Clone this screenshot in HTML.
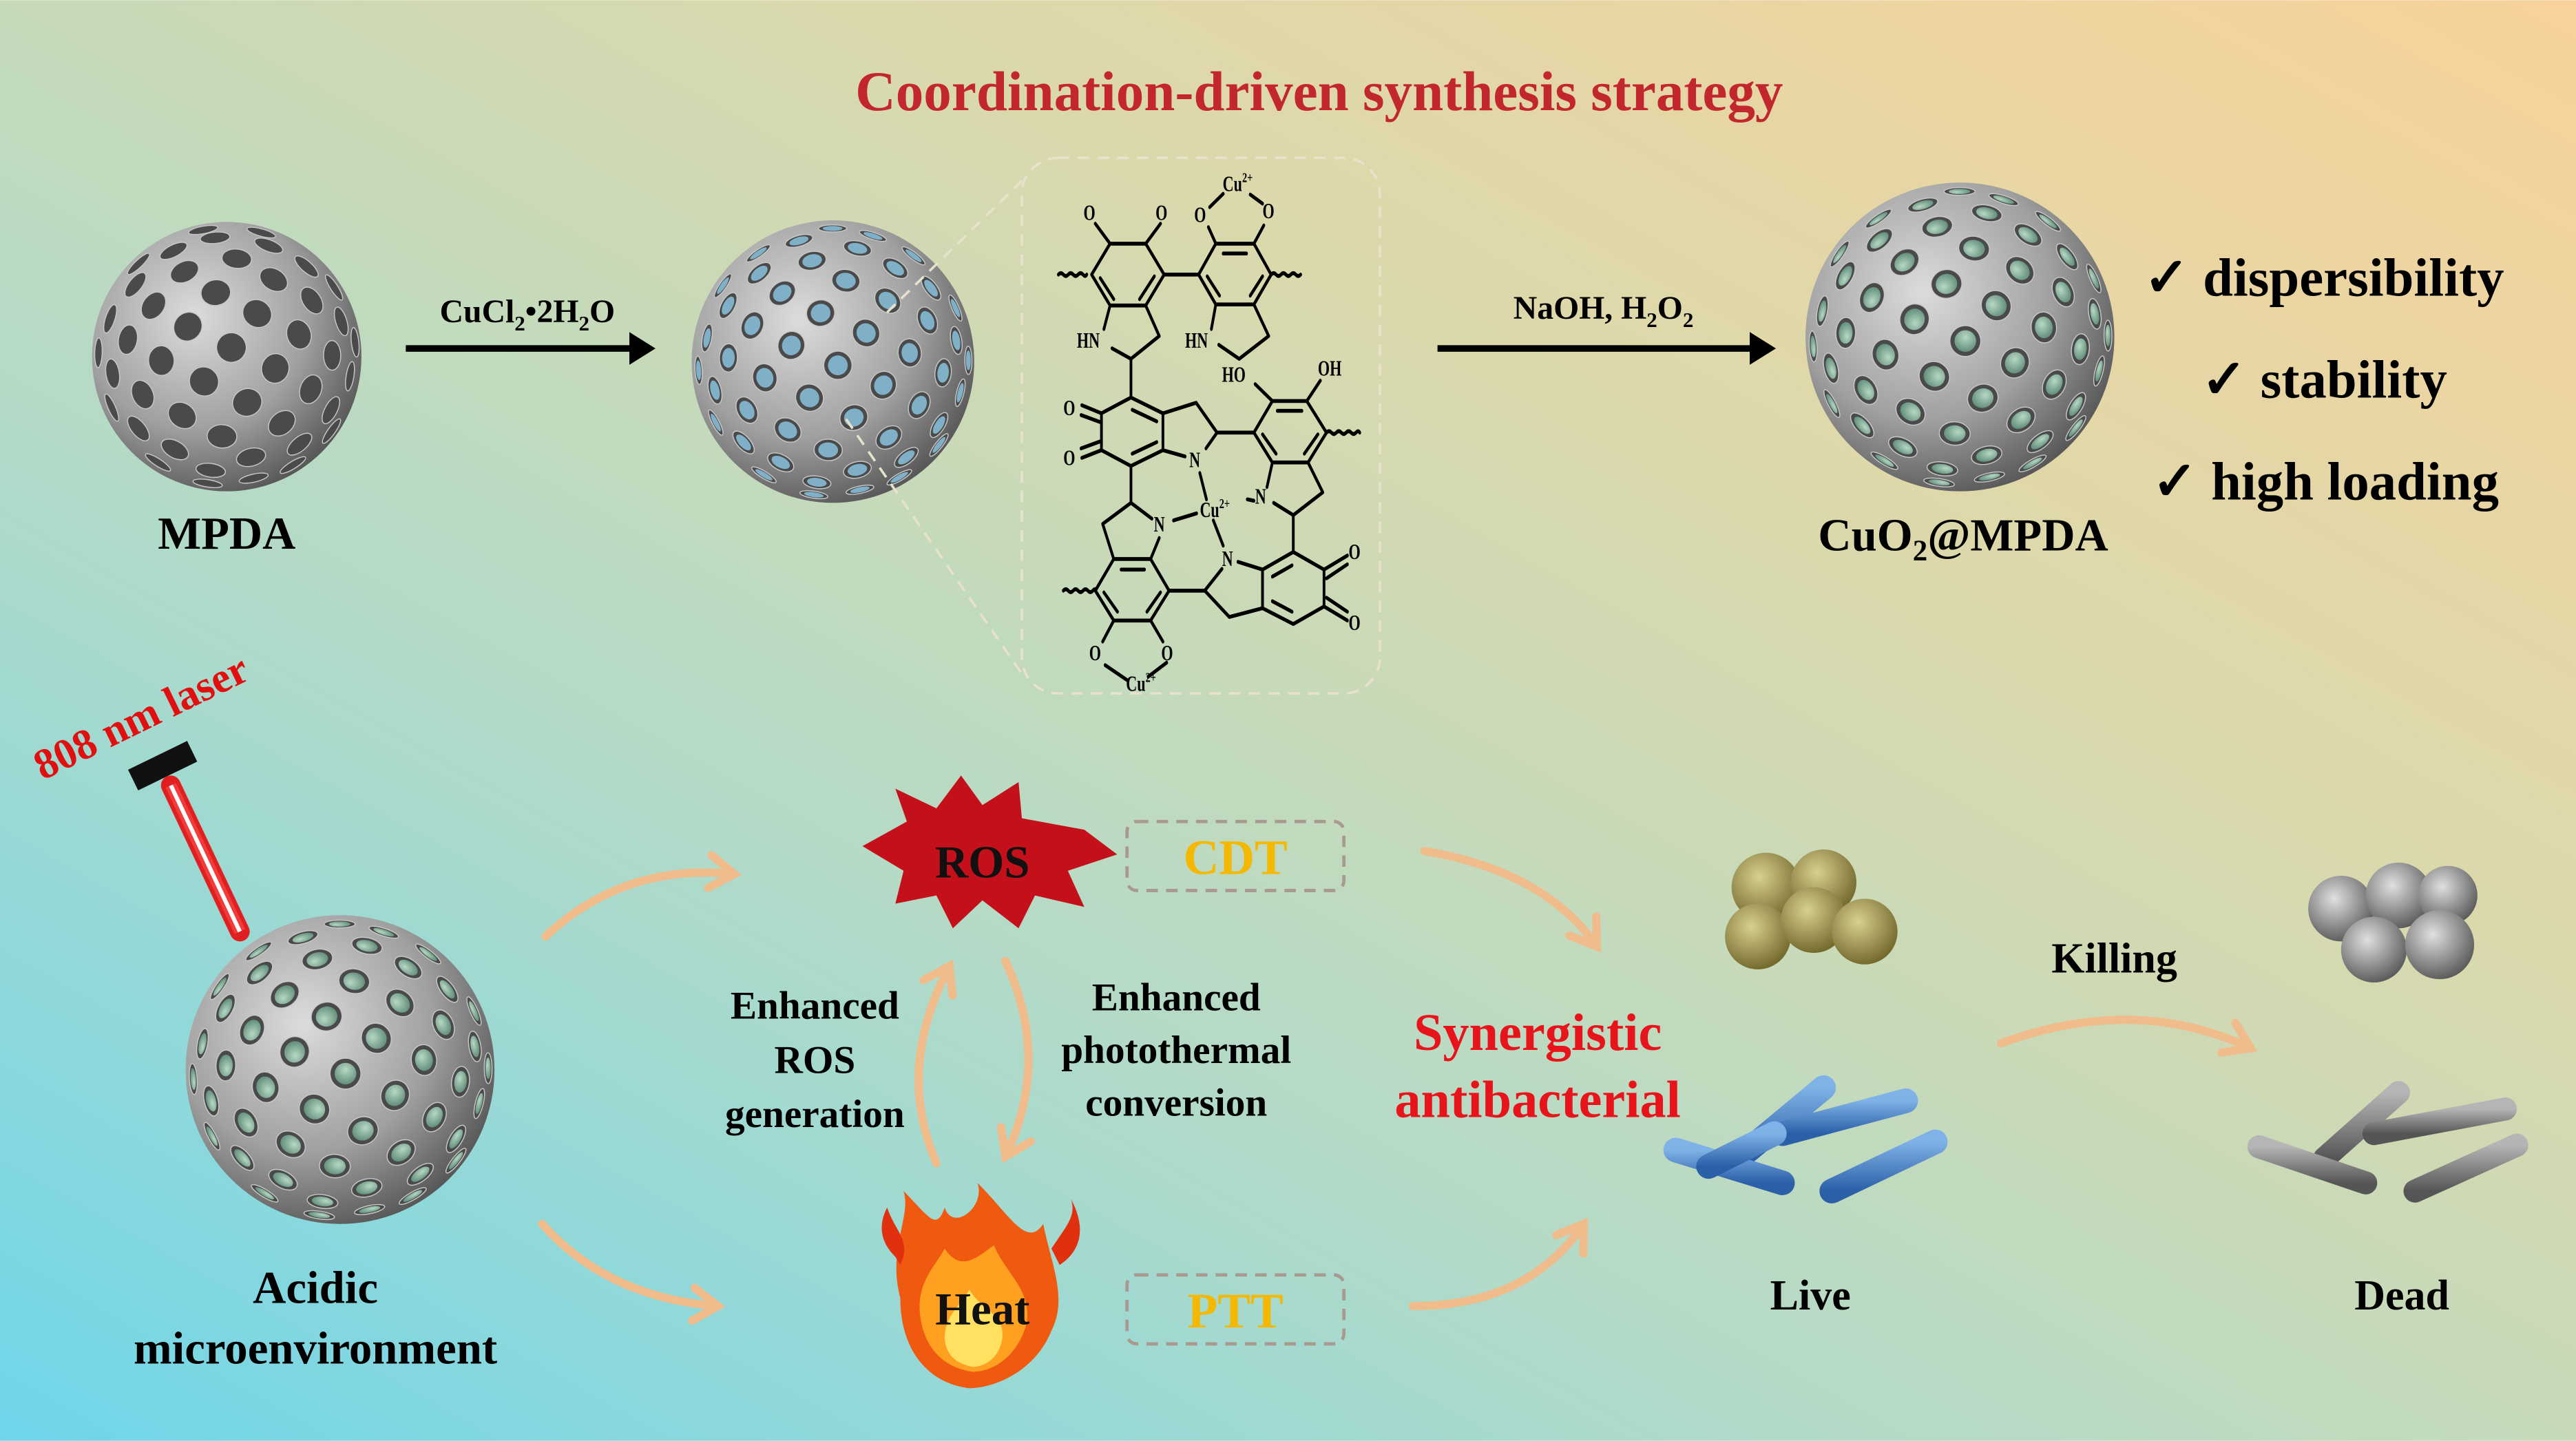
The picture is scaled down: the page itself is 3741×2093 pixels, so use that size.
<!DOCTYPE html>
<html><head><meta charset="utf-8">
<style>
html,body{margin:0;padding:0;width:3741px;height:2093px;overflow:hidden}
svg{display:block}
text{font-family:"Liberation Serif",serif;font-weight:bold}
</style></head><body>
<svg id="s" width="3741" height="2093" viewBox="0 0 1568 877" xmlns="http://www.w3.org/2000/svg">
<defs>
<linearGradient id="bg1" x1="0" y1="1" x2="1" y2="0">
<stop offset="0" stop-color="#6fd6ea"/>
<stop offset="0.35" stop-color="#b2dac8"/>
<stop offset="0.65" stop-color="#d9d9ad"/>
<stop offset="1" stop-color="#f8d29a"/>
</linearGradient>
<radialGradient id="sph" cx="0.38" cy="0.35" r="0.7">
<stop offset="0" stop-color="#dcdcdc"/>
<stop offset="0.6" stop-color="#a0a0a0"/>
<stop offset="1" stop-color="#555"/>
</radialGradient>
<radialGradient id="grn" cx="0.4" cy="0.35" r="0.7">
<stop offset="0" stop-color="#b6d8c4"/>
<stop offset="1" stop-color="#5f8c78"/>
</radialGradient>
<radialGradient id="yb" cx="0.4" cy="0.35" r="0.7">
<stop offset="0" stop-color="#d8d090"/>
<stop offset="1" stop-color="#6e6428"/>
</radialGradient>
<radialGradient id="gb" cx="0.4" cy="0.35" r="0.7">
<stop offset="0" stop-color="#e0e0e0"/>
<stop offset="1" stop-color="#555"/>
</radialGradient>
<linearGradient id="blue" x1="0" y1="0" x2="0" y2="1">
<stop offset="0" stop-color="#7fb2e6"/><stop offset="1" stop-color="#2b5fa8"/>
</linearGradient>
<linearGradient id="grey" x1="0" y1="0" x2="0" y2="1">
<stop offset="0" stop-color="#b5b5b5"/><stop offset="1" stop-color="#555"/>
</linearGradient>
<marker id="ab" markerWidth="6" markerHeight="6" refX="3" refY="3" orient="auto" markerUnits="strokeWidth"><path d="M0,0.5 L4,3 L0,5.5 Z" fill="#000"/></marker>
<marker id="ao" markerWidth="5" markerHeight="5" refX="3.5" refY="2.5" orient="auto" markerUnits="strokeWidth"><path d="M0.5,0.5 L3.5,2.5 L0.5,4.5" fill="none" stroke="#f0bc8c" stroke-width="1" stroke-linecap="round"/></marker>
</defs>
<rect width="1568" height="877" fill="url(#bg1)"/>

<text x="803" y="67" font-size="34" fill="#c1272d" text-anchor="middle">Coordination-driven synthesis strategy</text>

<g id="spheres"></g>

<line x1="247" y1="212" x2="395" y2="212" stroke="#000" stroke-width="4" marker-end="url(#ab)"/>
<text x="321" y="196" font-size="20" text-anchor="middle">CuCl<tspan font-size="13" dy="5">2</tspan><tspan dy="-5">•2H</tspan><tspan font-size="13" dy="5">2</tspan><tspan dy="-5">O</tspan></text>
<line x1="875" y1="212" x2="1077" y2="212" stroke="#000" stroke-width="4" marker-end="url(#ab)"/>
<text x="976" y="194" font-size="20" text-anchor="middle">NaOH, H<tspan font-size="13" dy="5">2</tspan><tspan dy="-5">O</tspan><tspan font-size="13" dy="5">2</tspan></text>

<text x="138" y="334" font-size="28" text-anchor="middle">MPDA</text>
<text x="1195" y="335" font-size="28" text-anchor="middle">CuO<tspan font-size="18" dy="6">2</tspan><tspan dy="-6">@MPDA</tspan></text>

<text x="1305" y="180" font-size="33">✓ dispersibility</text>
<text x="1340" y="242" font-size="33">✓ stability</text>
<text x="1310" y="304" font-size="33">✓ high loading</text>

<rect x="622" y="96" width="218" height="326" rx="22" fill="none" stroke="#e8e2cc" stroke-width="1.5" stroke-dasharray="7 5"/>
<line x1="540" y1="190" x2="622" y2="110" stroke="#e8e2cc" stroke-width="1.5" stroke-dasharray="7 5"/>
<line x1="515" y1="255" x2="622" y2="410" stroke="#e8e2cc" stroke-width="1.5" stroke-dasharray="7 5"/>

<g transform="translate(620.3,92.2) scale(0.1497,0.2138)" stroke="#000" stroke-width="11" fill="none" stroke-linecap="round" stroke-linejoin="round">
<polygon points="370,262 515,262 590,350 515,438 370,438 295,350"/>
<line x1="330" y1="360" x2="385" y2="420"/><line x1="490" y1="420" x2="550" y2="355"/>
<line x1="370" y1="262" x2="310" y2="205"/><line x1="515" y1="262" x2="575" y2="205"/>
<path d="M160,350 q10,-8 20,0 t20,0 t20,0 t20,0 t20,0 t15,0"/>
<polyline points="370,438 345,505"/><polyline points="378,560 455,590 570,525 515,438"/>
<line x1="590" y1="350" x2="730" y2="350"/>
<polygon points="800,262 955,262 1025,350 955,435 800,435 730,350"/>
<line x1="830" y1="290" x2="925" y2="290"/><line x1="765" y1="355" x2="815" y2="410"/><line x1="990" y1="355" x2="940" y2="410"/>
<line x1="800" y1="262" x2="770" y2="215"/><line x1="955" y1="262" x2="995" y2="210"/>
<line x1="775" y1="158" x2="830" y2="120"/><line x1="940" y1="122" x2="990" y2="148"/>
<path d="M1025,350 q10,-8 20,0 t20,0 t20,0 t20,0 t20,0 t20,0"/>
<line x1="800" y1="435" x2="782" y2="505"/><polyline points="812,550 895,590 1015,525 955,435"/>
<line x1="455" y1="590" x2="455" y2="700"/>
<polygon points="455,700 585,745 585,850 455,895 335,850 335,745"/>
<line x1="460" y1="735" x2="560" y2="768"/><line x1="460" y1="860" x2="560" y2="827"/>
<line x1="335" y1="745" x2="255" y2="722"/><line x1="330" y1="770" x2="252" y2="750"/>
<line x1="335" y1="850" x2="255" y2="872"/><line x1="330" y1="825" x2="252" y2="845"/>
<polyline points="585,745 720,715 805,800 760,845"/><line x1="585" y1="850" x2="675" y2="868"/>
<line x1="805" y1="800" x2="955" y2="800"/>
<polygon points="1030,710 1170,710 1250,800 1175,885 1030,885 955,800"/>
<line x1="1050" y1="738" x2="1150" y2="738"/><line x1="990" y1="805" x2="1045" y2="860"/><line x1="1215" y1="805" x2="1160" y2="860"/>
<line x1="1030" y1="710" x2="960" y2="662"/><line x1="1170" y1="710" x2="1225" y2="652"/>
<path d="M1250,800 q10,-8 20,0 t20,0 t20,0 t20,0 t20,0 t20,0 t15,0"/>
<line x1="1030" y1="885" x2="1008" y2="955"/><polyline points="1035,1000 1115,1035 1235,970 1175,885"/>
<line x1="1115" y1="1035" x2="1115" y2="1140"/>
<line x1="455" y1="895" x2="455" y2="1000"/>
<polyline points="540,1045 455,1000 340,1060 385,1160"/>
<line x1="570" y1="1100" x2="535" y2="1160"/>
<polygon points="385,1160 535,1160 610,1250 535,1335 385,1335 310,1250"/>
<line x1="415" y1="1190" x2="510" y2="1190"/><line x1="345" y1="1255" x2="400" y2="1310"/><line x1="575" y1="1255" x2="520" y2="1310"/>
<path d="M180,1250 q10,-8 20,0 t20,0 t20,0 t20,0 t20,0 t20,0 t10,0"/>
<line x1="385" y1="1335" x2="340" y2="1395"/><line x1="535" y1="1335" x2="585" y2="1395"/>
<line x1="350" y1="1462" x2="440" y2="1505"/><line x1="600" y1="1455" x2="525" y2="1495"/>
<polyline points="610,1250 755,1250 825,1188"/>
<polyline points="755,1250 855,1325 990,1300 990,1190 890,1168"/>
<polygon points="1115,1140 1240,1190 1240,1295 1115,1345 990,1300 990,1190"/>
<line x1="1030" y1="1210" x2="1110" y2="1178"/><line x1="1030" y1="1280" x2="1110" y2="1310"/>
<line x1="1240" y1="1190" x2="1335" y2="1150"/><line x1="1250" y1="1215" x2="1335" y2="1175"/>
<line x1="1240" y1="1295" x2="1335" y2="1335"/><line x1="1250" y1="1270" x2="1335" y2="1310"/>
<line x1="735" y1="915" x2="762" y2="990"/><line x1="628" y1="1050" x2="722" y2="1030"/><line x1="790" y1="1050" x2="830" y2="1122"/>
<line x1="928" y1="990" x2="955" y2="994"/>
</g>
<g transform="translate(620.3,92.2) scale(0.1497,0.2138)" font-size="62" fill="#000">
<text x="262" y="195">O</text><text x="555" y="195">O</text>
<text x="828" y="112">Cu<tspan font-size="40" dy="-25">2+</tspan></text>
<text x="712" y="200">O</text><text x="990" y="190">O</text>
<text x="235" y="558">HN</text><text x="675" y="558">HN</text>
<text x="825" y="655">HO</text><text x="1215" y="638">OH</text>
<text x="180" y="750">O</text><text x="180" y="892">O</text>
<text x="692" y="898">N</text><text x="960" y="1002">N</text>
<text x="735" y="1040">Cu<tspan font-size="40" dy="-25">2+</tspan></text>
<text x="548" y="1082">N</text><text x="825" y="1180">N</text>
<text x="285" y="1448">O</text><text x="578" y="1448">O</text>
<text x="435" y="1535">Cu<tspan font-size="40" dy="-25">2+</tspan></text>
<text x="1340" y="1160">O</text><text x="1340" y="1362">O</text>
</g>

<text transform="translate(26,475) rotate(-26)" font-size="26" fill="#e01010">808 nm laser</text>
<rect x="79" y="459" width="40" height="14" fill="#111" transform="rotate(-26 99 466)"/>
<line x1="104" y1="478" x2="146" y2="567" stroke="#e02020" stroke-width="12" stroke-linecap="round"/>
<line x1="104" y1="478" x2="146" y2="567" stroke="#ff5050" stroke-width="7" opacity="0.6"/>
<line x1="104" y1="478" x2="146" y2="567" stroke="#fff" stroke-width="2.5"/>

<text x="192" y="793" font-size="28" text-anchor="middle">Acidic</text>
<text x="192" y="830" font-size="28" text-anchor="middle">microenvironment</text>

<g fill="none" stroke="#f0bc8c" stroke-width="5" stroke-linecap="round" marker-end="url(#ao)">
<path d="M332,570 Q380,525 447,532"/>
<path d="M330,745 Q370,790 437,795"/>
<path d="M867,518 Q940,530 972,576"/>
<path d="M860,795 Q930,795 964,745"/>
<path d="M1218,635 Q1300,605 1370,638"/>
<path d="M570,708 Q545,650 578,588"/>
<path d="M612,585 Q640,645 612,704"/>
</g>

<polygon fill="#c4101a" points="525,515 552,500 545,480 570,492 585,472 598,490 620,476 622,498 660,505 680,520 650,530 660,552 630,545 620,565 598,548 580,565 570,545 545,550 550,530" />
<text x="598" y="534" font-size="28" text-anchor="middle" fill="#111">ROS</text>

<rect x="686" y="500" width="132" height="42" rx="6" fill="none" stroke="#a89a90" stroke-width="2" stroke-dasharray="7 5"/>
<text x="752" y="532" font-size="30" fill="#f5b800" text-anchor="middle" font-family="Liberation Sans,sans-serif">CDT</text>
<rect x="686" y="776" width="132" height="42" rx="6" fill="none" stroke="#a89a90" stroke-width="2" stroke-dasharray="7 5"/>
<text x="752" y="808" font-size="30" fill="#f5b800" text-anchor="middle" font-family="Liberation Sans,sans-serif">PTT</text>

<g>
<path d="M548,790 C540,760 555,740 550,725 C565,740 570,750 575,735 C580,750 600,735 595,720 C615,740 625,760 635,745 C640,770 650,790 640,810 C630,835 605,845 590,845 C565,842 548,822 548,790Z" fill="#f05a10"/>
<path d="M560,800 C558,780 570,770 575,760 C585,775 595,765 605,758 C612,775 628,785 625,805 C620,825 605,835 592,835 C572,832 562,818 560,800Z" fill="#ffa020"/>
<path d="M575,815 C575,800 585,795 590,785 C598,798 612,800 610,815 C608,828 598,832 592,832 C582,830 576,825 575,815Z" fill="#ffe060"/>
<path d="M640,760 C650,745 655,740 652,730 C660,745 660,760 645,770Z" fill="#e03010"/>
<path d="M545,765 C535,755 535,745 540,735 C545,750 555,755 548,770Z" fill="#e03010"/>
</g>
<text x="598" y="806" font-size="28" text-anchor="middle" fill="#111">Heat</text>

<g font-size="24" text-anchor="middle">
<text x="496" y="620">Enhanced</text><text x="496" y="653">ROS</text><text x="496" y="686">generation</text>
<text x="716" y="615">Enhanced</text><text x="716" y="647">photothermal</text><text x="716" y="679">conversion</text>
</g>
<text x="936" y="639" font-size="32" fill="#e8141c" text-anchor="middle">Synergistic</text>
<text x="936" y="680" font-size="32" fill="#e8141c" text-anchor="middle">antibacterial</text>
<text x="1287" y="592" font-size="26" text-anchor="middle">Killing</text>
<text x="1102" y="797" font-size="26" text-anchor="middle">Live</text>
<text x="1462" y="797" font-size="26" text-anchor="middle">Dead</text>

<g>
<circle cx="1075" cy="540" r="21" fill="url(#yb)"/><circle cx="1110" cy="537" r="20" fill="url(#yb)"/>
<circle cx="1070" cy="570" r="20" fill="url(#yb)"/><circle cx="1104" cy="560" r="20" fill="url(#yb)"/>
<circle cx="1135" cy="567" r="20" fill="url(#yb)"/>
</g>
<g stroke-linecap="round" stroke-width="15">
<line x1="1062" y1="702" x2="1110" y2="662" stroke="url(#blue)"/>
<line x1="1020" y1="700" x2="1085" y2="720" stroke="url(#blue)"/>
<line x1="1085" y1="690" x2="1160" y2="670" stroke="url(#blue)"/>
<line x1="1115" y1="725" x2="1178" y2="695" stroke="url(#blue)"/>
<line x1="1040" y1="710" x2="1080" y2="690" stroke="url(#blue)"/>
</g>
<g>
<circle cx="1425" cy="553" r="20" fill="url(#gb)"/><circle cx="1460" cy="545" r="20" fill="url(#gb)"/>
<circle cx="1490" cy="545" r="18" fill="url(#gb)"/><circle cx="1445" cy="578" r="20" fill="url(#gb)"/>
<circle cx="1485" cy="575" r="21" fill="url(#gb)"/>
</g>
<g stroke-linecap="round" stroke-width="14">
<line x1="1415" y1="705" x2="1460" y2="665" stroke="url(#grey)"/>
<line x1="1375" y1="698" x2="1440" y2="720" stroke="url(#grey)"/>
<line x1="1445" y1="690" x2="1525" y2="675" stroke="url(#grey)"/>
<line x1="1470" y1="725" x2="1532" y2="697" stroke="url(#grey)"/>
</g>
</svg>
<script>
(function(){
var NS="http://www.w3.org/2000/svg",g=document.getElementById("spheres");
function el(n,a){var e=document.createElementNS(NS,n);for(var k in a)e.setAttribute(k,a[k]);g.appendChild(e);return e;}
function sphere(cx,cy,R,N,hr,fill){
 el("circle",{cx:cx,cy:cy,r:R,fill:"url(#sph)"});
 var ga=Math.PI*(3-Math.sqrt(5));
 for(var i=0;i<N;i++){
  var y=1-(i/(N-1))*2,r=Math.sqrt(1-y*y),t=ga*i;
  var x=Math.cos(t)*r,z=Math.sin(t)*r;
  if(z<0.05)continue;
  var px=cx+x*R*0.96,py=cy+y*R*0.96;
  var ang=Math.atan2(y,x)*180/Math.PI;
  var rr=hr*R;
  var tr="rotate("+ang+" "+px+" "+py+")";
  el("ellipse",{cx:px,cy:py,rx:rr*Math.max(z,0.25),ry:rr,fill:"#4a4a4a",stroke:"#c8c8c8","stroke-width":0.6,transform:tr});
  if(fill){
   el("ellipse",{cx:px,cy:py,rx:rr*0.7*Math.max(z,0.25),ry:rr*0.7,fill:fill,transform:tr});
  }
 }
}
sphere(138,217,82,100,0.11,null);
sphere(507,220,86,110,0.1,"#7fb0c8");
sphere(1193,205,94,110,0.1,"url(#grn)");
sphere(207,651,94,110,0.1,"url(#grn)");
})();
</script>
</body></html>
